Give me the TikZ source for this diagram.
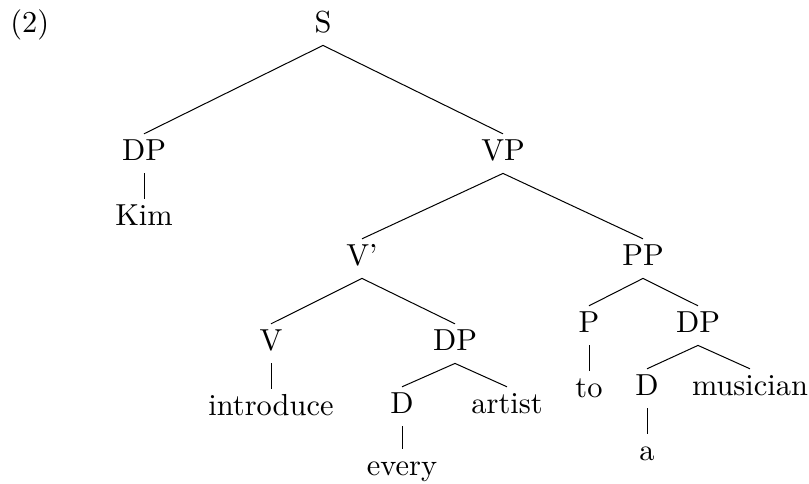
\documentclass[tikz,border=0pt]{standalone}
\usepackage{fontspec}
% the 10pt design of Latin Modern, used at every size
\setmainfont{lmroman10-regular}[Extension=.otf]
\begin{document}
\begin{tikzpicture}[x=0.5pt,y=-0.5pt,
  lbl/.style={anchor=base,inner sep=2.5pt,text height=10.4pt,text depth=4pt,
    font=\fontsize{15.2}{18}\selectfont},
  branch/.style={line width=0.5pt}]
\useasboundingbox (0,0) rectangle (809,483);
% example number
\node[lbl,anchor=base west,inner sep=0pt] (num) at (10,32) {(2)};
% tree nodes
\node[lbl] (S)   at (323,32)  {S};
\node[lbl] (DPa) at (144,160) {DP};
\node[lbl] (Kim) at (144,225) {Kim};
\node[lbl] (VP)  at (503,160) {VP};
\node[lbl] (Vbar) at (362,265) {V'};
\node[lbl] (PP)  at (643,265) {PP};
\node[lbl] (V)   at (271,350) {V};
\node[lbl] (DPb) at (455,350) {DP};
\node[lbl] (intro) at (271,415) {introduce};
\node[lbl] (Da)  at (402,413) {D};
\node[lbl] (artist) at (507,413) {artist};
\node[lbl] (every) at (402,475) {every};
\node[lbl] (P)   at (589,332) {P};
\node[lbl] (DPc) at (698,332) {DP};
\node[lbl] (to)  at (589,397) {to};
\node[lbl] (Db)  at (647,395) {D};
\node[lbl] (mus) at (750,395) {musician};
\node[lbl] (a)   at (647,460) {a};
% branches
\draw[branch] (S.south) -- (DPa.north);
\draw[branch] (S.south) -- (VP.north);
\draw[branch] (DPa.south) -- (Kim.north);
\draw[branch] (VP.south) -- (Vbar.north);
\draw[branch] (VP.south) -- (PP.north);
\draw[branch] (Vbar.south) -- (V.north);
\draw[branch] (Vbar.south) -- (DPb.north);
\draw[branch] (V.south) -- (intro.north);
\draw[branch] (DPb.south) -- (Da.north);
\draw[branch] (DPb.south) -- (artist.north);
\draw[branch] (Da.south) -- (every.north);
\draw[branch] (PP.south) -- (P.north);
\draw[branch] (PP.south) -- (DPc.north);
\draw[branch] (P.south) -- (to.north);
\draw[branch] (DPc.south) -- (Db.north);
\draw[branch] (DPc.south) -- (mus.north);
\draw[branch] (Db.south) -- (a.north);
\end{tikzpicture}
\end{document}
